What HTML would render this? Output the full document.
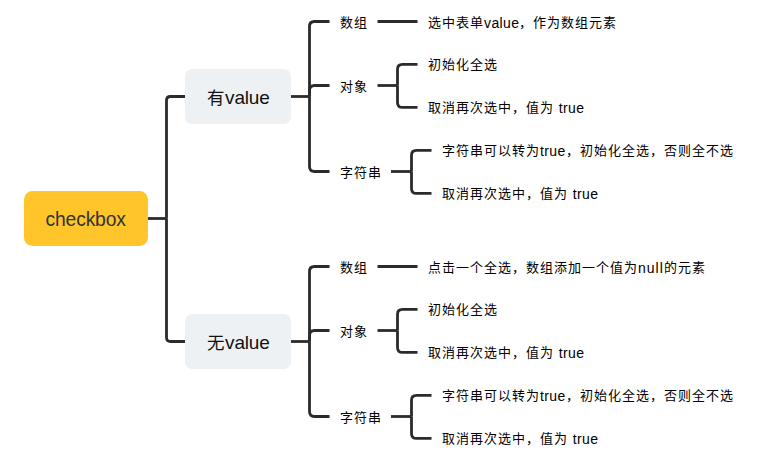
<!DOCTYPE html>
<html lang="zh-CN"><head><meta charset="utf-8"><style>
html,body{margin:0;padding:0;background:#fff;width:762px;height:462px;overflow:hidden}
body{position:relative;font-family:"Liberation Sans",sans-serif;color:#000}
svg{position:absolute;left:0;top:0}
.t{position:absolute;white-space:nowrap;font-size:13px;letter-spacing:1px;line-height:20px;font-weight:500}
.box{position:absolute;border-radius:7px}
.l{font-size:14px;letter-spacing:0.4px;position:relative;top:1px;line-height:0}
.c{font-size:17.5px;letter-spacing:1.3px;position:relative;top:0px;line-height:0}
.lbl{position:absolute;white-space:nowrap;font-size:19px;letter-spacing:-0.2px;line-height:24px;color:#111}
</style></head><body>
<svg width="762" height="462" viewBox="0 0 762 462"><g fill="none" stroke="#2b2b2b" stroke-width="2.8" stroke-linecap="butt">
<path d="M148,218.5 H166.5"/>
<path d="M166.5,218.5 V100.5 Q166.5,96.5 170.5,96.5 H185"/>
<path d="M166.5,218.5 V337.5 Q166.5,341.5 170.5,341.5 H185"/>
<path d="M291,96.5 H309.5"/>
<path d="M309.5,96.5 V26.5 Q309.5,21.5 314.5,21.5 H329.5"/>
<path d="M309.5,96.5 V90.5 Q309.5,85.5 314.5,85.5 H329.5"/>
<path d="M309.5,96.5 V166.5 Q309.5,171.5 314.5,171.5 H329.5"/>
<path d="M377.5,21.5 H417.5"/>
<path d="M377.5,85.5 H397.5"/>
<path d="M397.5,85.5 V69.4 Q397.5,64.4 402.5,64.4 H417.5"/>
<path d="M397.5,85.5 V102.4 Q397.5,107.4 402.5,107.4 H417.5"/>
<path d="M391,171.5 H411.5"/>
<path d="M411.5,171.5 V155.4 Q411.5,150.4 416.5,150.4 H431.5"/>
<path d="M411.5,171.5 V188.4 Q411.5,193.4 416.5,193.4 H431.5"/>
<path d="M291,341.5 H309.5"/>
<path d="M309.5,341.5 V271.5 Q309.5,266.5 314.5,266.5 H329.5"/>
<path d="M309.5,341.5 V335.5 Q309.5,330.5 314.5,330.5 H329.5"/>
<path d="M309.5,341.5 V411.5 Q309.5,416.5 314.5,416.5 H329.5"/>
<path d="M377.5,266.5 H417.5"/>
<path d="M377.5,330.5 H397.5"/>
<path d="M397.5,330.5 V314.4 Q397.5,309.4 402.5,309.4 H417.5"/>
<path d="M397.5,330.5 V347.4 Q397.5,352.4 402.5,352.4 H417.5"/>
<path d="M391,416.5 H411.5"/>
<path d="M411.5,416.5 V400.4 Q411.5,395.4 416.5,395.4 H431.5"/>
<path d="M411.5,416.5 V433.4 Q411.5,438.4 416.5,438.4 H431.5"/>
</g></svg>
<div class="box" style="left:24px;top:191px;width:124px;height:55px;background:#ffc52b;border-radius:8.5px"></div>
<div class="box" style="left:185px;top:69px;width:106px;height:55px;background:#eef1f4"></div>
<div class="box" style="left:185px;top:314px;width:106px;height:55px;background:#eef1f4"></div>
<div class="lbl" style="left:45.5px;top:208px;font-size:19.3px;letter-spacing:-0.15px;color:#333">checkbox</div>
<div class="lbl" style="left:206.8px;top:86px"><span class="c">有</span>value</div>
<div class="lbl" style="left:206.8px;top:331px"><span class="c">无</span>value</div>
<div class="t" style="left:340px;top:12.5px">数组</div>
<div class="t" style="left:340px;top:76.5px">对象</div>
<div class="t" style="left:340px;top:162.5px">字符串</div>
<div class="t" style="left:428px;top:12.5px">选中表单<span class="l">value</span>，作为数组元素</div>
<div class="t" style="left:428px;top:55.4px">初始化全选</div>
<div class="t" style="left:428px;top:98.4px">取消再次选中，值为 <span class="l">true</span></div>
<div class="t" style="left:442px;top:141.4px">字符串可以转为<span class="l">true</span>，初始化全选，否则全不选</div>
<div class="t" style="left:442px;top:184.4px">取消再次选中，值为 <span class="l">true</span></div>
<div class="t" style="left:340px;top:257.5px">数组</div>
<div class="t" style="left:340px;top:321.5px">对象</div>
<div class="t" style="left:340px;top:407.5px">字符串</div>
<div class="t" style="left:428px;top:257.5px">点击一个全选，数组添加一个值为<span class="l" style="letter-spacing:1px">null</span>的元素</div>
<div class="t" style="left:428px;top:300.4px">初始化全选</div>
<div class="t" style="left:428px;top:343.4px">取消再次选中，值为 <span class="l">true</span></div>
<div class="t" style="left:442px;top:386.4px">字符串可以转为<span class="l">true</span>，初始化全选，否则全不选</div>
<div class="t" style="left:442px;top:429.4px">取消再次选中，值为 <span class="l">true</span></div>
</body></html>
